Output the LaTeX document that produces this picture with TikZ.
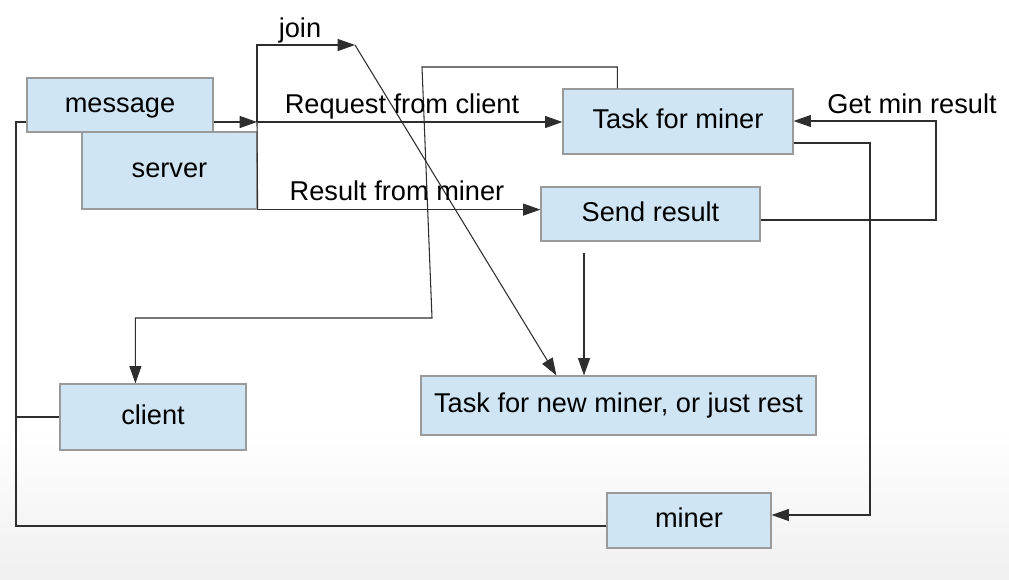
\documentclass[tikz,border=0pt]{standalone}
\usepackage{fontspec}
\setmainfont{Liberation Sans}
\usetikzlibrary{arrows.meta,calc}
\definecolor{boxfill}{HTML}{CFE5F3}
\definecolor{boxdraw}{HTML}{9A9A9A}
\definecolor{linec}{HTML}{2E2E2E}
\begin{document}
\begin{tikzpicture}[x=0.75pt,y=-0.75pt,
  every node/.style={font=\fontsize{20.4}{24}\selectfont},
  box/.style={draw=boxdraw, fill=boxfill, line width=0.9pt, inner sep=0pt, text height=14pt, text depth=3.5pt},
  conn/.style={draw=linec, line width=0.8pt},
  arr/.style={conn, -{Triangle[length=13pt,width=9pt]}},
  lbl/.style={inner sep=0pt, anchor=base}]
\useasboundingbox (0,0) rectangle (1009,579);
\shade[top color=white, bottom color=black!6, draw=none] (0,430) rectangle (1009,579);

% boxes
\node[box, minimum width=139.5pt, minimum height=40.5pt] (msg) at (120,105) {message};
\node[box, minimum width=131.25pt, minimum height=57.75pt] (srv) at (169.5,170.5) {server};
\node[box, minimum width=172.5pt, minimum height=48.75pt] (tfm) at (678,121.5) {Task for miner};
\node[box, minimum width=164.25pt, minimum height=40.5pt] (send) at (650.5,214) {Send result};
\node[box, minimum width=296.25pt, minimum height=44.25pt] (new) at (618.5,405.5) {Task for new miner, or just rest};
\node[box, minimum width=139.5pt, minimum height=49.5pt] (cli) at (153,417) {client};
\node[box, minimum width=123pt, minimum height=41.25pt] (min) at (689,520.5) {miner};

% helper coordinates
\coordinate (junc) at (257,122);
\coordinate (joinpt) at (355,45);
\coordinate (b1) at (422,67);
\coordinate (b2) at (432,318);
\coordinate (c1) at (870,143);
\coordinate (c2) at (870,515);
\coordinate (g1) at (936,220);
\coordinate (g2) at (936,121);
\coordinate (sd) at (584,253);
\coordinate (l1) at (16,122);
\coordinate (l2) at (16,526);

% connectors
\draw[arr] (msg.east |- junc) -- (junc);
\draw[conn] (srv.south east) -- (junc);
\draw[arr] (junc) -- (tfm.west |- junc);
\draw[arr] (junc) |- (joinpt);
\draw[arr] (joinpt) -- ($(new.north west)+(136,0)$);
\draw[arr] (srv.south east) -- (send.west |- srv.south east);
\draw[arr] ($(tfm.north west)+(55,0)$) |- (b1) -- (b2) -| ($(cli.north west)+(76,0)$);
\draw[arr] (tfm.east |- c1) -- (c1) -- (c2) -- (min.east |- c2);
\draw[arr] (send.east |- g1) -- (g1) -- (g2) -- (tfm.east |- g2);
\draw[arr] (sd) -- (sd |- new.north);
\draw[conn] (msg.west |- l1) -- (l1) -- (l2) -- (min.west |- l2);
\draw[conn] (cli.west) -- (cli.west -| l1);

% labels
\node[lbl] (ljoin) at (300,37) {join};
\node[lbl] (lreq) at (402,113) {Request from client};
\node[lbl] (lres) at (397,200) {Result from miner};
\node[lbl] (lget) at (912,113) {Get min result};
\end{tikzpicture}
\end{document}
